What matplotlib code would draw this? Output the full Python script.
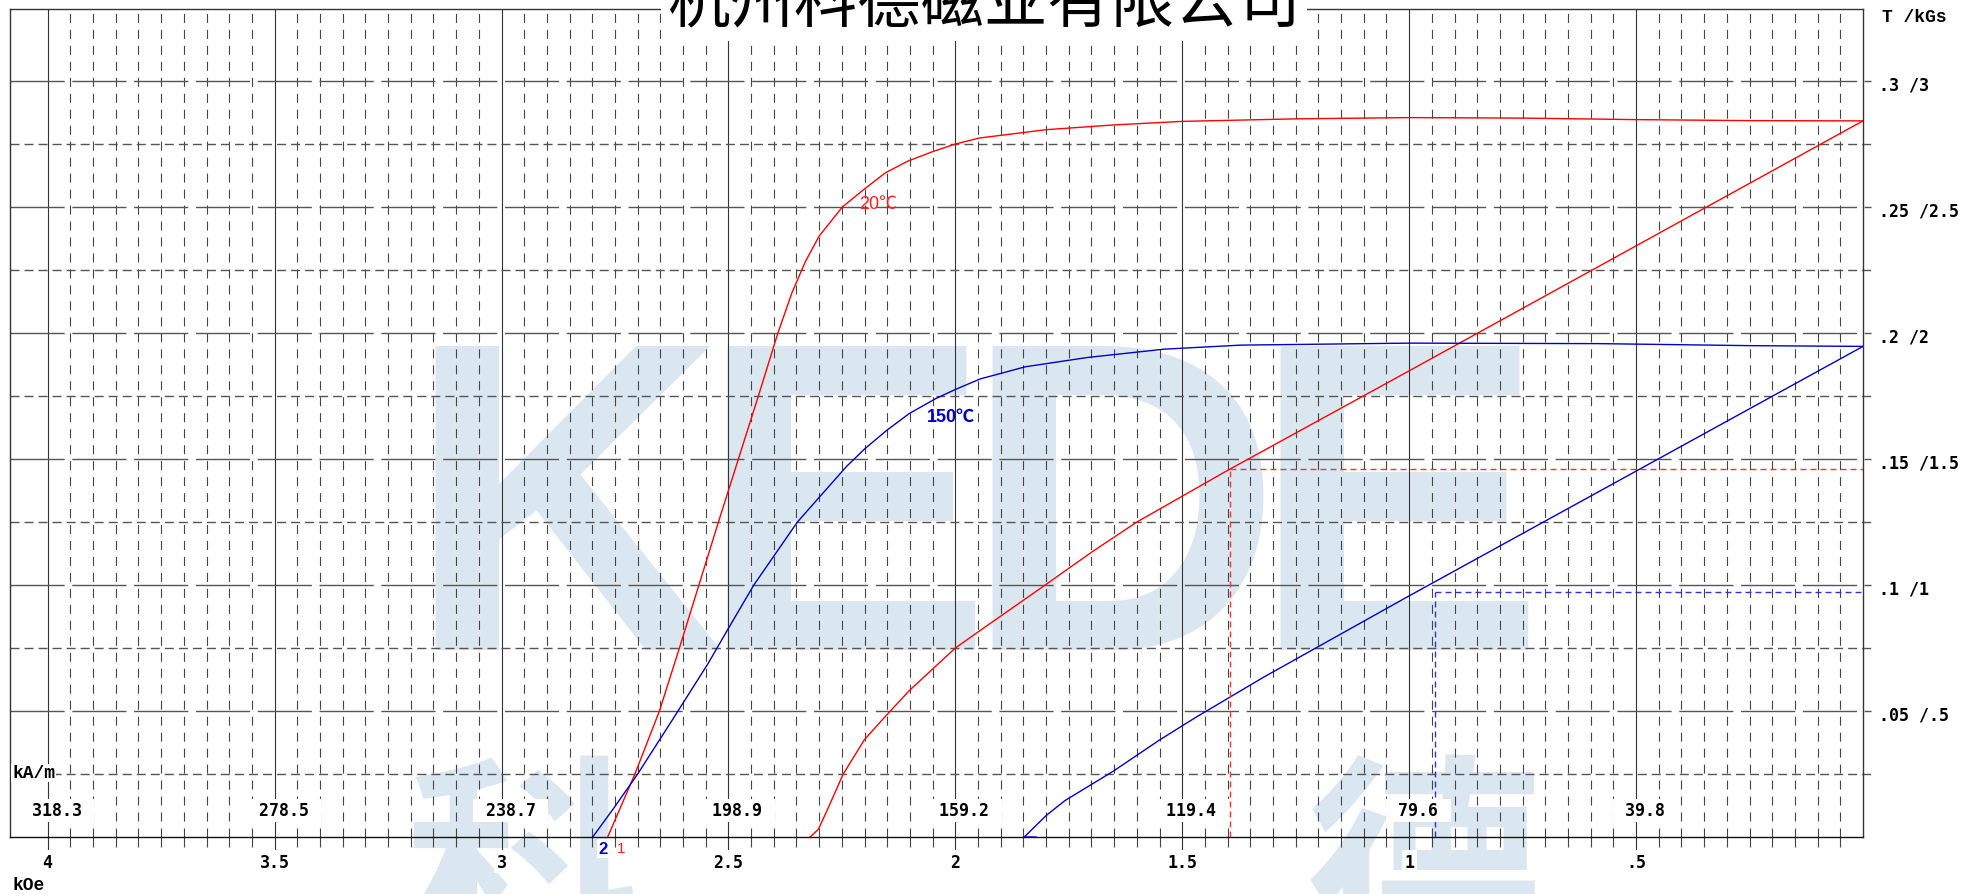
import numpy as np
import matplotlib.pyplot as plt

plt.rcParams['lines.scale_dashes'] = False

# demagnetization curves, H in kOe, B in T
# 20 C intrinsic curve (J)
h_j20 = [2.766, 2.706, 2.652, 2.608, 2.565, 2.522, 2.478, 2.434, 2.391, 2.360,
         2.330, 2.300, 2.249, 2.200, 2.154, 2.105, 2.050, 2.000, 1.947, 1.800,
         1.650, 1.500, 1.250, 1.000, 0.750, 0.500, 0.250, 0.000]
b_j20 = [0.000, 0.025, 0.050, 0.075, 0.100, 0.125, 0.150, 0.175, 0.200, 0.216,
         0.2285, 0.2385, 0.250, 0.2572, 0.2636, 0.2682, 0.272, 0.275, 0.2774, 0.2807,
         0.2826, 0.2840, 0.2850, 0.2855, 0.2853, 0.2847, 0.2843, 0.2842]
# 20 C normal curve (B)
h_b20 = [0.000, 0.500, 1.000, 1.400, 1.600, 1.700, 1.802, 1.945, 2.000, 2.102,
         2.159, 2.200, 2.247, 2.280, 2.302, 2.320]
b_b20 = [0.2842, 0.2346, 0.1850, 0.1455, 0.1250, 0.1130, 0.1000, 0.0820, 0.0750, 0.0580,
         0.0469, 0.0387, 0.0250, 0.0116, 0.0030, 0.0000]
# 150 C intrinsic curve (J)
h_j150 = [2.799, 2.752, 2.700, 2.622, 2.545, 2.501, 2.444, 2.348, 2.299, 2.240,
          2.200, 2.151, 2.102, 2.043, 2.000, 1.945, 1.846, 1.709, 1.540, 1.372,
          1.000, 0.582, 0.250, 0.000]
b_j150 = [0.000, 0.0116, 0.025, 0.0469, 0.0688, 0.0825, 0.100, 0.125, 0.135, 0.147,
          0.154, 0.1614, 0.168, 0.174, 0.1776, 0.1818, 0.1866, 0.1903, 0.1936, 0.1952,
          0.1960, 0.1958, 0.1950, 0.1947]
# 150 C normal curve (B)
h_b150 = [0.000, 0.500, 1.000, 1.320, 1.470, 1.550, 1.653, 1.758, 1.800, 1.848, 1.822]
b_b150 = [0.1947, 0.1452, 0.0957, 0.0635, 0.0475, 0.0385, 0.0260, 0.0145, 0.0085, 0.0000, 0.0000]

# (BH)max working points
bh20 = (1.395, 0.146)
bh150 = (0.943, 0.0972)

koe_ticks = [4, 3.5, 3, 2.5, 2, 1.5, 1, 0.5]
koe_labels = ['4', '3.5', '3', '2.5', '2', '1.5', '1', '.5']
kam_labels = ['318.3', '278.5', '238.7', '198.9', '159.2', '119.4', '79.6', '39.8']
t_ticks = [0.3, 0.25, 0.2, 0.15, 0.1, 0.05]
t_labels = ['.3 /3', '.25 /2.5', '.2 /2', '.15 /1.5', '.1 /1', '.05 /.5']

W, HP = 1968, 895
fig = plt.figure(figsize=(W / 100, HP / 100), dpi=100)
ax = fig.add_axes([10 / W, 57 / HP, 1853 / W, 828 / HP])
ax.set_facecolor('none')
xl, yt = 4.083, 0.3286
ax.set_xlim(xl, 0)
ax.set_ylim(0, yt)
ax.set_xticks([])
ax.set_yticks([])
for s in ax.spines.values():
    s.set_color('#333333')
    s.set_linewidth(1.0)
ax.spines['bottom'].set_color('#111111')

px = 1 / 453.8   # kOe per pixel
py = 1 / 2520    # T per pixel

# watermark
wm = '#dae7f1'
for ch, cx in zip('KEDE', [565, 845, 1122, 1398]):
    fig.text(cx / W, (HP - 650) / HP, ch, ha='center', va='baseline', color=wm,
             fontsize=318, fontweight='bold', family='Liberation Sans', zorder=-1)
for ch, cx in zip('科德', [523, 1424]):
    fig.text(cx / W, (HP - 767) / HP, ch, ha='center', va='top', color=wm,
             fontsize=170, fontweight='bold', family='Noto Sans CJK SC', zorder=-1)

# grid
idx = np.arange(1, 80)
minor_x = np.round(idx[idx % 10 != 0] * 0.05, 3)
major_x = np.round(np.arange(1, 9) * 0.5, 3)
ax.vlines(minor_x, 0, yt, colors='#444444', lw=0.8, linestyles=[(0, (6.5, 5))], zorder=1)
ax.vlines(minor_x, -10 * py, 0, colors='#444444', lw=0.8, clip_on=False, zorder=1)
ax.vlines(major_x, -16 * py, yt, colors='#333333', lw=0.8, clip_on=False, zorder=1)
major_y = np.round(np.arange(1, 7) * 0.05, 3)
minor_y = np.round(np.arange(1, 12, 2) * 0.025, 3)
ax.hlines(major_y, xl, -8 * px, colors='#555555', lw=1.0,
          linestyles=[(0, (39, 5.5))], clip_on=False, zorder=1)
ax.hlines(minor_y, xl, -8 * px, colors='#555555', lw=1.0,
          linestyles=[(0, (6.5, 3.6))], clip_on=False, zorder=1)

# curves
ax.plot(h_j20, b_j20, color='#ff0000', lw=1.0, zorder=3)
ax.plot(h_b20, b_b20, color='#ff0000', lw=1.0, zorder=3)
ax.plot(h_j150, b_j150, color='#0000c8', lw=1.0, zorder=3)
ax.plot(h_b150, b_b150, color='#0000c8', lw=1.0, zorder=3)

dash = (0, (4.3, 2.9))
ax.plot([bh20[0], bh20[0]], [0, bh20[1]], color='#ff3030', lw=1.0, ls=dash, zorder=3)
ax.plot([bh20[0], 0], [bh20[1], bh20[1]], color='#ff3030', lw=1.0, ls=dash, zorder=3)
ax.plot([bh150[0], bh150[0]], [0, bh150[1]], color='#3030e0', lw=1.0, ls=dash, zorder=3)
ax.plot([bh150[0], 0], [bh150[1], bh150[1]], color='#3030e0', lw=1.0, ls=dash, zorder=3)

# labels
mono = 'DejaVu Sans Mono'
white = dict(facecolor='white', edgecolor='none', boxstyle='square,pad=0.15')
for h, lab in zip(koe_ticks, kam_labels):
    ax.text(h - 9 * px, 0.0107, ' ' + lab + ' ', ha='center', va='center', family=mono,
            fontweight='bold', fontsize=12, bbox=white, zorder=4)
for h, lab in zip(koe_ticks, koe_labels):
    ax.text(h, -25 * py, lab, ha='center', va='center', family=mono, fontweight='bold',
            fontsize=12, bbox=white, clip_on=False, zorder=4)
for b, lab in zip(t_ticks, t_labels):
    ax.text(1.0086, b - 3.5 * py, lab, transform=ax.get_yaxis_transform(), ha='left',
            va='center', family=mono, fontweight='bold', fontsize=12)

ax.text(xl - 2 * px, 0.0254, 'kA/m', ha='left', va='center', family='Liberation Mono',
        fontweight='bold', fontsize=13, bbox=dict(facecolor='white', edgecolor='none',
                                                   boxstyle='square,pad=0.05'), zorder=4)
fig.text(13 / W, 9 / HP, 'kOe', ha='left', va='center', family='Liberation Mono',
         fontweight='bold', fontsize=13)
fig.text(1882 / W, 1 - 17 / HP, 'T /kGs', ha='left', va='center', family='Liberation Mono',
         fontweight='bold', fontsize=13)

cj = ['Liberation Sans', 'Noto Sans CJK SC', 'DejaVu Sans']
ax.text(2.211, 0.2516, '20℃', color='#ff2020', ha='left', va='center', family=cj,
        fontsize=13, zorder=4)
ax.text(2.062, 0.167, '150℃', color='#0000c8', ha='left', va='center', family=cj,
        fontsize=13, fontweight='bold', zorder=4)
ax.text(2.776, -4 * py, '2', color='#0000c8', ha='center', va='top', family=cj,
        fontsize=12, fontweight='bold', clip_on=False, zorder=4,
        bbox=dict(facecolor='white', edgecolor='none', boxstyle='square,pad=0.1'))
ax.text(2.736, -4 * py, '1', color='#ff2020', ha='center', va='top', family=cj,
        fontsize=11, clip_on=False, zorder=4)

fig.text(0.5, 1 - 22 / HP, '杭州科德磁业有限公司', ha='center', va='baseline',
         family=['Noto Sans CJK SC', 'DejaVu Sans'], fontsize=45.6, color='black',
         bbox=dict(facecolor='white', edgecolor='none', boxstyle='square,pad=0.1'))

fig.savefig('out.png', dpi=100)
